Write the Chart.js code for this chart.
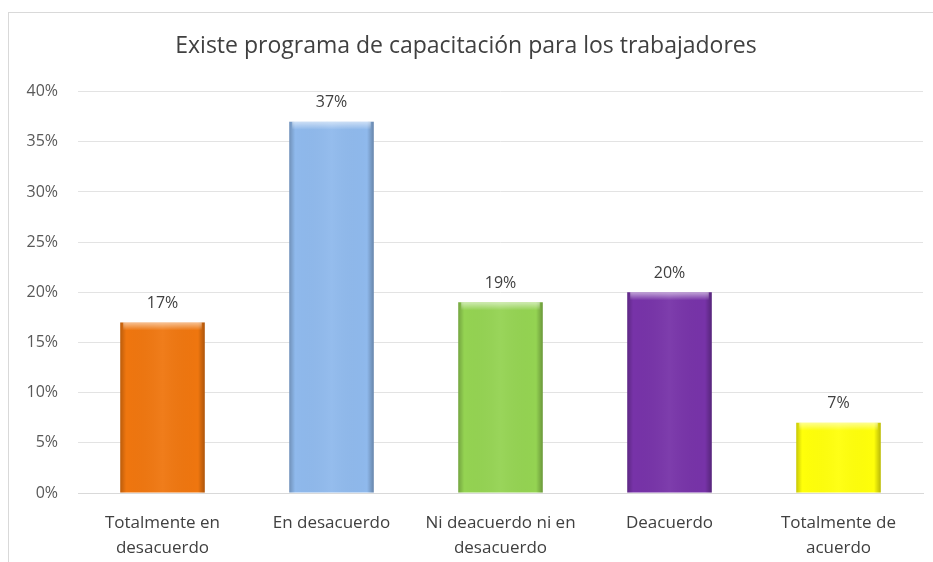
<!DOCTYPE html>
<html>
<head>
<meta charset="utf-8">
<script src="https://cdn.jsdelivr.net/npm/chart.js@4"></script>
<style>
  body { margin: 0; background: #fff; }
  #wrap {
    position: absolute; left: 8px; top: 12px;
    width: 924px; height: 549px;
    border-left: 1px solid #d9d9d9; border-top: 1px solid #d9d9d9;
  }
</style>
</head>
<body>
<div id="wrap"><canvas id="chart" width="924" height="549"></canvas></div>
<script>
const categories = [
  ["Totalmente en", "desacuerdo"],
  "En desacuerdo",
  ["Ni deacuerdo ni en", "desacuerdo"],
  "Deacuerdo",
  ["Totalmente de", "acuerdo"]
];
const percentages = [17, 37, 19, 20, 7];
const barColors = ["#ef760f", "#8fb9ec", "#94d352", "#7733a8", "#ffff0a"];
const yTicks = [0, 5, 10, 15, 20, 25, 30, 35, 40];

const FONT = "'Open Sans', Lato, sans-serif";

// bevel shading on top of each bar
const bevel = {
  id: "bevel",
  afterDatasetsDraw(chart) {
    const ctx = chart.ctx;
    chart.getDatasetMeta(0).data.forEach((bar) => {
      const left = bar.x - bar.width / 2;
      const top = bar.y;
      const h = bar.base - bar.y;
      const w = bar.width;
      const g = ctx.createLinearGradient(left, 0, left + w, 0);
      g.addColorStop(0, "rgba(0,0,0,0.22)");
      g.addColorStop(0.07, "rgba(0,0,0,0.0)");
      g.addColorStop(0.5, "rgba(255,255,255,0.05)");
      g.addColorStop(0.92, "rgba(0,0,0,0.0)");
      g.addColorStop(1, "rgba(0,0,0,0.28)");
      ctx.save();
      ctx.fillStyle = g;
      ctx.fillRect(left, top, w, h);
      const t = ctx.createLinearGradient(0, top, 0, top + 8);
      t.addColorStop(0, "rgba(255,255,255,0.55)");
      t.addColorStop(1, "rgba(255,255,255,0)");
      ctx.fillStyle = t;
      ctx.fillRect(left + 3, top, w - 6, 8);
      ctx.restore();
    });
  }
};

// value labels above the bars
const valueLabels = {
  id: "valueLabels",
  afterDatasetsDraw(chart) {
    const ctx = chart.ctx;
    const values = chart.data.datasets[0].data;
    ctx.save();
    ctx.font = "16px " + FONT;
    ctx.fillStyle = "#404040";
    ctx.textAlign = "center";
    ctx.textBaseline = "middle";
    chart.getDatasetMeta(0).data.forEach((bar, i) => {
      ctx.fillText(values[i] + "%", bar.x, bar.y - 19);
    });
    ctx.restore();
  }
};

new Chart(document.getElementById("chart"), {
  type: "bar",
  data: {
    labels: categories,
    datasets: [{
      data: percentages,
      backgroundColor: barColors,
      borderWidth: 0,
      categoryPercentage: 1,
      barPercentage: 0.5
    }]
  },
  options: {
    responsive: false,
    animation: false,
    layout: { padding: { left: 0, right: 10, top: 0, bottom: 0 } },
    plugins: {
      legend: { display: false },
      tooltip: { enabled: false },
      title: {
        display: true,
        text: "Existe programa de capacitación para los trabajadores",
        color: "#404040",
        font: { family: FONT, size: 23, weight: "normal" },
        padding: { top: 20, bottom: 31 }
      }
    },
    scales: {
      x: {
        grid: { display: false },
        border: { display: true, color: "#d9d9d9" },
        ticks: {
          color: "#404040",
          font: { family: FONT, size: 17, lineHeight: 1.45 },
          padding: 10,
          maxRotation: 0
        },
        afterFit(scale) { scale.height = 69; }
      },
      y: {
        min: 0,
        max: 40,
        afterBuildTicks(scale) { scale.ticks = yTicks.map((v) => ({ value: v })); },
        grid: { color: "#e3e3e3", drawTicks: false },
        border: { display: false },
        ticks: {
          color: "#595959",
          font: { family: FONT, size: 16 },
          padding: 20,
          callback: (v) => v + "%"
        },
        afterFit(scale) { scale.width = 69; }
      }
    }
  },
  plugins: [bevel, valueLabels]
});
</script>
</body>
</html>
